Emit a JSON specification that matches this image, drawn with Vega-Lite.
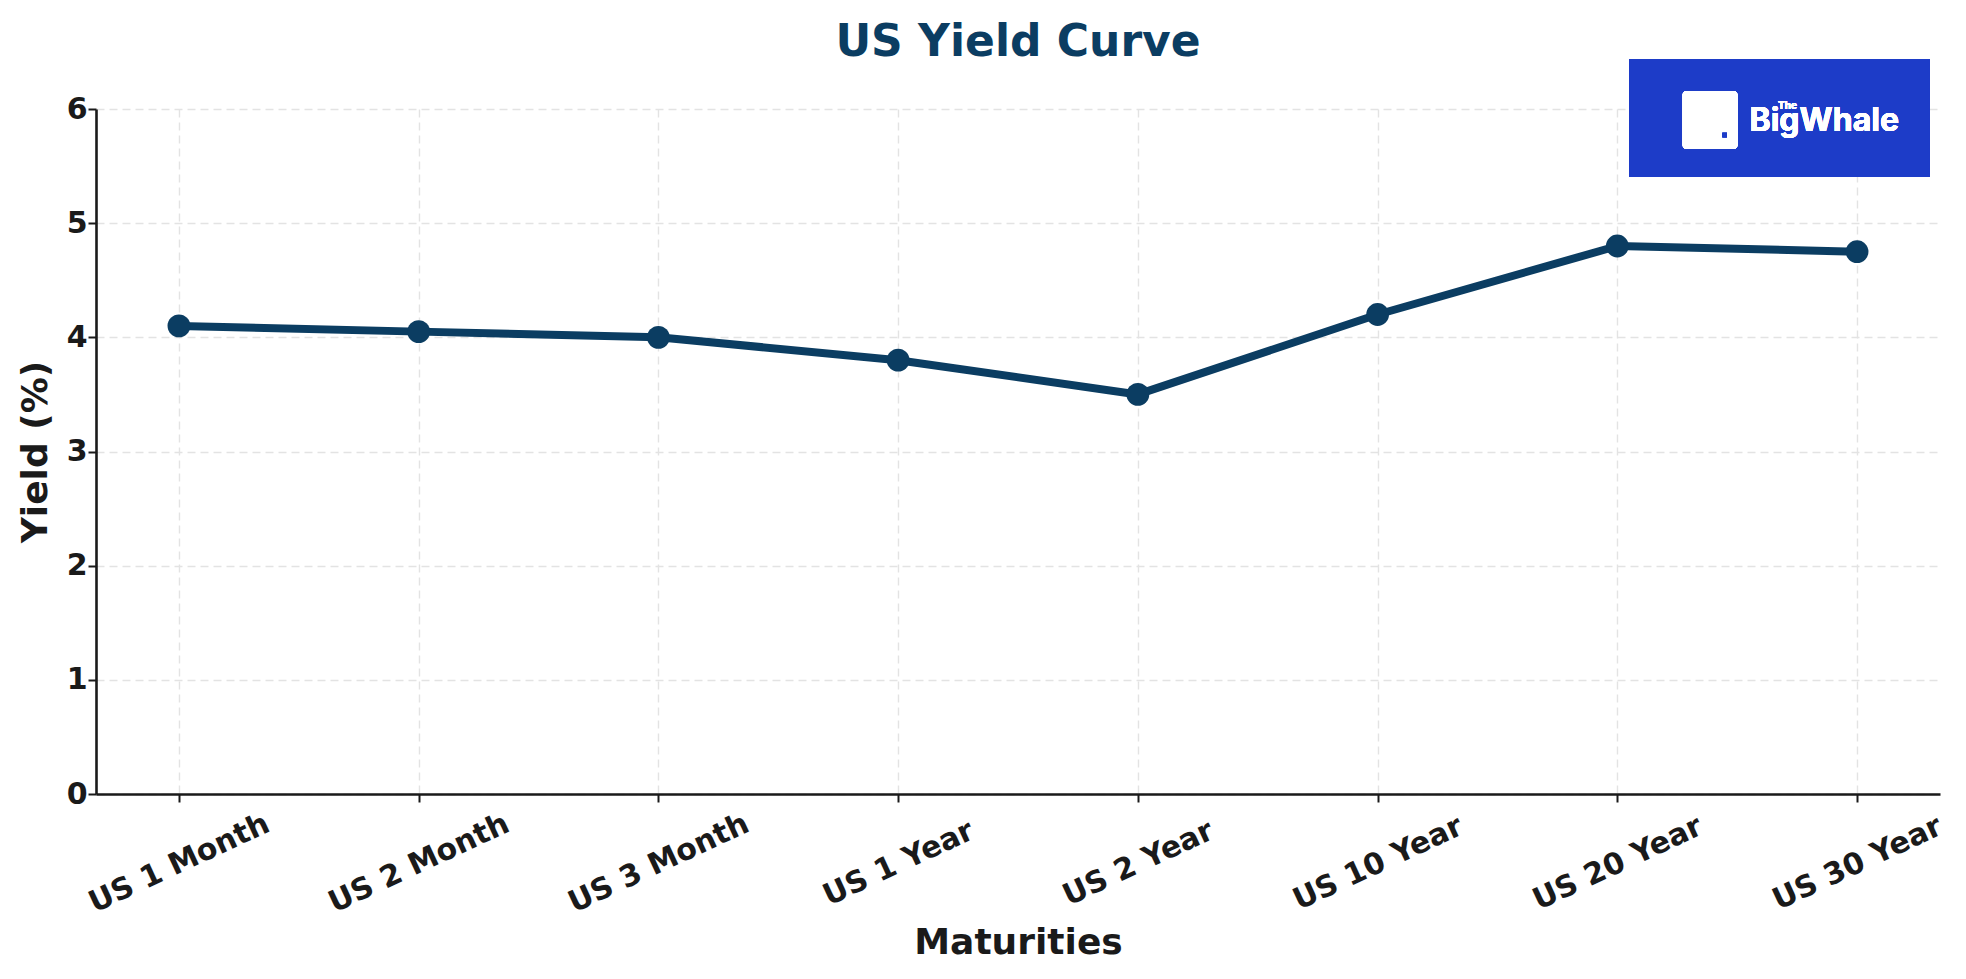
{
  "$schema": "https://vega.github.io/schema/vega-lite/v6.json",
  "width": 1844,
  "height": 685,
  "autosize": {"type": "none"},
  "padding": {"left": 96, "top": 109, "right": 26, "bottom": 185},
  "background": "white",
  "config": {
    "font": "DejaVu Sans",
    "view": {"stroke": null},
    "axis": {
      "labelFont": "DejaVu Sans",
      "labelFontWeight": "bold",
      "labelColor": "#1a1a1a",
      "labelLimit": 0,
      "titleFont": "DejaVu Sans",
      "titleFontWeight": "bold",
      "titleColor": "#1a1a1a",
      "domainColor": "#1a1a1a",
      "domainWidth": 2.6,
      "tickColor": "#1a1a1a",
      "tickWidth": 2,
      "tickSize": 8,
      "gridColor": "#e3e3e3",
      "gridWidth": 1.4,
      "gridDash": [8, 5]
    }
  },
  "title": {
    "text": "US Yield Curve",
    "font": "DejaVu Sans",
    "fontSize": 44,
    "fontWeight": "bold",
    "color": "#0b3d62",
    "anchor": "middle",
    "frame": "group",
    "baseline": "alphabetic",
    "offset": 5,
    "dy": 46
  },
  "data": {
    "values": [
      {"maturity": "US 1 Month", "yield": 4.1},
      {"maturity": "US 2 Month", "yield": 4.05},
      {"maturity": "US 3 Month", "yield": 4.0},
      {"maturity": "US 1 Year", "yield": 3.8},
      {"maturity": "US 2 Year", "yield": 3.5},
      {"maturity": "US 10 Year", "yield": 4.2},
      {"maturity": "US 20 Year", "yield": 4.8},
      {"maturity": "US 30 Year", "yield": 4.75}
    ]
  },
  "resolve": {"scale": {"x": "independent", "y": "independent"}},
  "layer": [
    {
      "layer": [
        {
          "mark": {"type": "line", "color": "#0b3d62", "strokeWidth": 8, "strokeCap": "round", "strokeJoin": "round"},
          "encoding": {
            "x": {
              "field": "maturity", "type": "ordinal", "sort": null,
              "scale": {"type": "point", "padding": 0.346},
              "axis": {
                "title": "Maturities", "titleFontSize": 36, "titlePadding": 8,
                "labelFontSize": 30, "labelAngle": -25, "labelAlign": "center",
                "labelBaseline": "middle", "labelPadding": 61, "labelOverlap": false,
                "grid": true
              }
            },
            "y": {
              "field": "yield", "type": "quantitative",
              "scale": {"domain": [0, 6], "nice": false, "zero": true},
              "axis": {
                "title": "Yield (%)", "titleFontSize": 36, "titlePadding": 12,
                "labelFontSize": 30, "labelPadding": 1, "values": [0, 1, 2, 3, 4, 5, 6],
                "format": "d", "grid": true
              }
            }
          }
        },
        {
          "mark": {"type": "point", "filled": true, "opacity": 1, "color": "#0b3d62", "size": 520, "shape": "circle"},
          "encoding": {
            "x": {"field": "maturity", "type": "ordinal", "sort": null},
            "y": {"field": "yield", "type": "quantitative"}
          }
        }
      ]
    },
    {
      "layer": [
        {
          "mark": {"type": "rect", "color": "#1d3cc8", "clip": false},
          "encoding": {
            "x": {"datum": 0.8316, "type": "quantitative", "scale": {"domain": [0, 1], "nice": false, "zero": false}, "axis": null},
            "x2": {"datum": 0.9943},
            "y": {"datum": 1.073, "type": "quantitative", "scale": {"domain": [0, 1], "nice": false, "zero": false}, "axis": null},
            "y2": {"datum": 0.9007}
          }
        },
        {
          "mark": {"type": "rect", "color": "white", "cornerRadius": 4, "clip": false},
          "encoding": {
            "x": {"datum": 0.8604, "type": "quantitative"},
            "x2": {"datum": 0.8902},
            "y": {"datum": 1.0263, "type": "quantitative"},
            "y2": {"datum": 0.9416}
          }
        },
        {
          "mark": {"type": "point", "shape": "square", "filled": true, "color": "#1d3cc8", "size": 20, "opacity": 1, "clip": false},
          "encoding": {
            "x": {"datum": 0.8832, "type": "quantitative"},
            "y": {"datum": 0.962, "type": "quantitative"}
          }
        },
        {
          "mark": {"type": "text", "text": "BigWhale", "color": "white", "font": "Inter", "fontWeight": "bold", "fontSize": 32, "align": "left", "baseline": "alphabetic", "clip": false},
          "encoding": {
            "x": {"datum": 0.8967, "type": "quantitative"},
            "y": {"datum": 0.968, "type": "quantitative"}
          }
        },
        {
          "mark": {"type": "text", "text": "The", "color": "white", "font": "Inter", "fontWeight": "bold", "fontSize": 10, "align": "center", "baseline": "alphabetic", "clip": false},
          "encoding": {
            "x": {"datum": 0.9173, "type": "quantitative"},
            "y": {"datum": 1.0, "type": "quantitative"}
          }
        }
      ]
    }
  ]
}
